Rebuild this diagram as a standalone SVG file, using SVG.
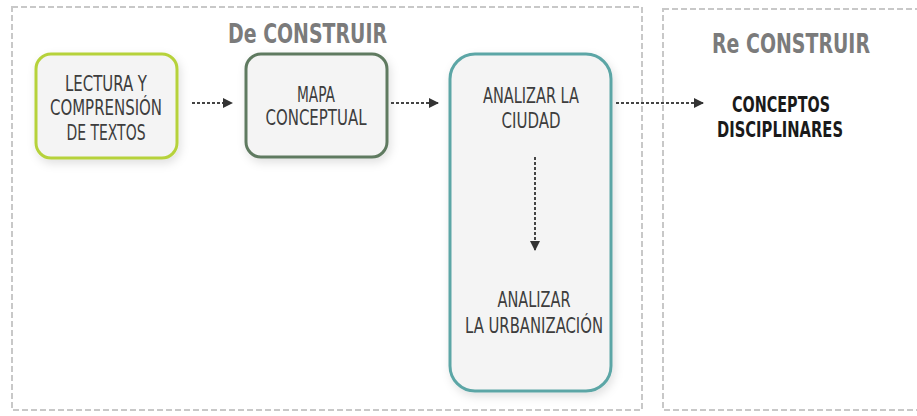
<svg xmlns="http://www.w3.org/2000/svg" width="917" height="416" viewBox="0 0 917 416">
<style>
.frame{fill:none;stroke:#c8c8c8;stroke-width:2;stroke-dasharray:6,3}
.title{font-family:"Liberation Sans Narrow","DejaVu Sans Condensed",Roboto,sans-serif;font-weight:bold;font-size:26px;fill:#7b7b7b}
.lbl{font-family:"Liberation Sans Narrow","DejaVu Sans Condensed",Roboto,sans-serif;font-size:22px;fill:#3d3d3d;text-anchor:middle}
.blbl{font-family:"Liberation Sans Narrow","DejaVu Sans Condensed",Roboto,sans-serif;font-weight:bold;font-size:21px;fill:#1a1a1a;text-anchor:middle}
.box{fill:#f4f4f4;stroke-width:3;filter:url(#sh)}
.conn{fill:none;stroke:#444;stroke-width:2;stroke-dasharray:3,2;marker-end:url(#ah)}
</style>
<defs>
<filter id="sh" x="-20%" y="-20%" width="140%" height="140%">
<feDropShadow dx="2" dy="4" stdDeviation="5" flood-color="#000" flood-opacity="0.12"/>
</filter>
<marker id="ah" viewBox="0 0 10 10" refX="9" refY="5" markerWidth="5" markerHeight="5" orient="auto" markerUnits="strokeWidth">
<path d="M0,0 L10,5 L0,10 Z" fill="#333"/>
</marker>
</defs>
<rect width="917" height="416" fill="#ffffff"/>
<g id="frames">
<rect class="frame" x="12" y="7" width="630" height="403"/>
<rect class="frame" x="663" y="9" width="262" height="401"/>
</g>
<g id="titles">
<text class="title" x="228" y="43" textLength="159" lengthAdjust="spacingAndGlyphs">De CONSTRUIR</text>
<text class="title" x="712" y="53" textLength="158" lengthAdjust="spacingAndGlyphs">Re CONSTRUIR</text>
</g>
<g id="n1">
<rect class="box" x="36" y="54" width="141" height="104" rx="15" stroke="#b6d23a"/>
<text class="lbl" x="106" y="91" textLength="82" lengthAdjust="spacingAndGlyphs">LECTURA Y</text>
<text class="lbl" x="106" y="115" textLength="112" lengthAdjust="spacingAndGlyphs">COMPRENSIÓN</text>
<text class="lbl" x="106" y="140" textLength="79" lengthAdjust="spacingAndGlyphs">DE TEXTOS</text>
</g>
<g id="n2">
<rect class="box" x="246" y="54" width="141" height="103" rx="15" stroke="#5f7a60"/>
<text class="lbl" x="316" y="102" textLength="38" lengthAdjust="spacingAndGlyphs">MAPA</text>
<text class="lbl" x="316" y="125" textLength="101" lengthAdjust="spacingAndGlyphs">CONCEPTUAL</text>
</g>
<g id="n3">
<rect class="box" x="450" y="54" width="161" height="337" rx="25" stroke="#5ca6a6"/>
<text class="lbl" x="531" y="103" textLength="96" lengthAdjust="spacingAndGlyphs">ANALIZAR LA</text>
<text class="lbl" x="531" y="128" textLength="59" lengthAdjust="spacingAndGlyphs">CIUDAD</text>
<text class="lbl" x="534" y="307" textLength="73" lengthAdjust="spacingAndGlyphs">ANALIZAR</text>
<text class="lbl" x="534" y="333" textLength="138" lengthAdjust="spacingAndGlyphs">LA URBANIZACIÓN</text>
</g>
<g id="n4">
<text class="blbl" x="781" y="112" textLength="98" lengthAdjust="spacingAndGlyphs">CONCEPTOS</text>
<text class="blbl" x="780" y="137" textLength="126" lengthAdjust="spacingAndGlyphs">DISCIPLINARES</text>
</g>
<g id="connectors">
<line class="conn" x1="192" y1="103" x2="232" y2="103"/>
<line class="conn" x1="391" y1="103" x2="438" y2="103"/>
<line class="conn" x1="616" y1="103" x2="703" y2="103"/>
<line class="conn" x1="535" y1="157" x2="535" y2="250"/>
</g>
</svg>
